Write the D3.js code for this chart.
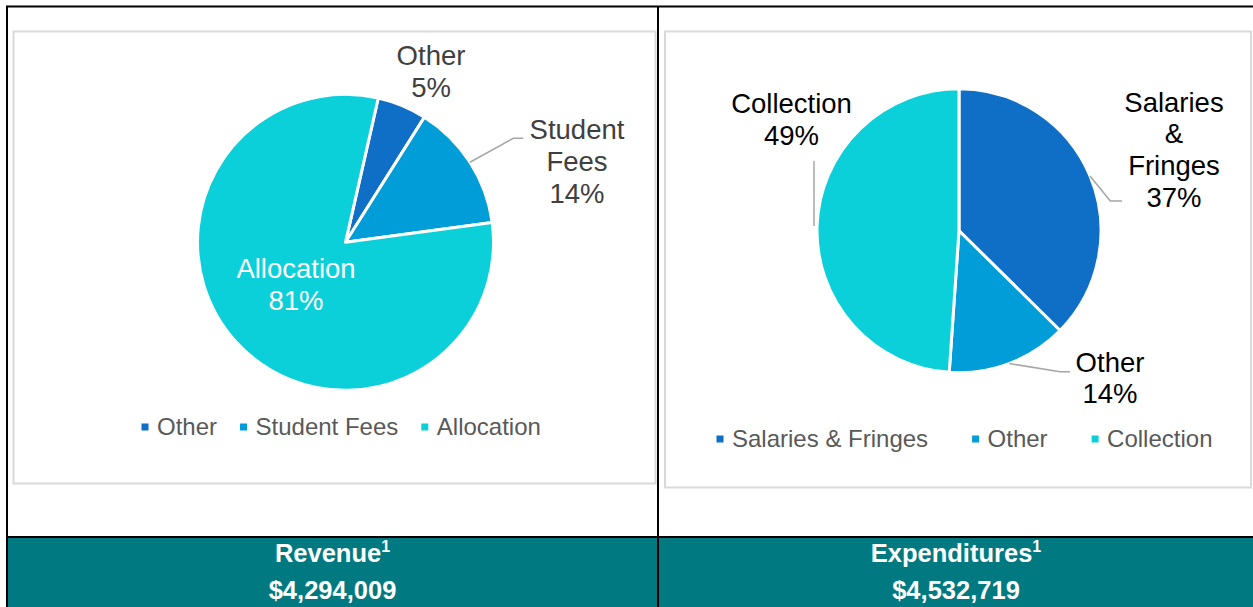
<!DOCTYPE html>
<html>
<head>
<meta charset="utf-8">
<script src="https://cdn.jsdelivr.net/npm/d3@7"></script>
<style>
  html, body { margin: 0; padding: 0; background: #fff; }
  svg { display: block; font-family: "Liberation Sans", Arial, sans-serif; }
</style>
</head>
<body>
<svg id="chart" width="1253" height="607"></svg>
<script>
// ---- data ----
const revenueCategories = ["Other", "Student Fees", "Allocation"];
const revenueShares = [5.4, 13.9, 80.7];
const revenueLabelLines = [["Other"], ["Student", "Fees"], ["Allocation"]];
const revenueTitle = "Revenue";
const revenueTotal = "$4,294,009";

const expenditureCategories = ["Salaries & Fringes", "Other", "Collection"];
const expenditureShares = [37.4, 13.7, 48.9];
const expenditureLabelLines = [["Salaries", "&", "Fringes"], ["Other"], ["Collection"]];
const expenditureTitle = "Expenditures";
const expenditureTotal = "$4,532,719";

const sliceColors = ["#0F6FC6", "#009DD9", "#0BD0D9"];

// ---- layout ----
const svg = d3.select("#chart");
const W = 1253, H = 607;
const fmt = d3.format(".0%");

// table frame
svg.append("rect").attr("x", 7).attr("y", 537).attr("width", W - 7).attr("height", H - 537).attr("fill", "#007A80");
const frame = svg.append("g").attr("stroke", "#000").attr("stroke-width", 2);
frame.append("line").attr("x1", 6).attr("x2", W).attr("y1", 6.5).attr("y2", 6.5);
frame.append("line").attr("x1", 6).attr("x2", W).attr("y1", 537).attr("y2", 537);
frame.append("line").attr("x1", 7).attr("x2", 7).attr("y1", 6).attr("y2", H);
frame.append("line").attr("x1", 658).attr("x2", 658).attr("y1", 6).attr("y2", H);

const charts = [
  {
    cats: revenueCategories, vals: revenueShares, lines: revenueLabelLines,
    box: {x: 13.5, y: 31.5, w: 642, h: 452},
    cx: 345.5, cy: 242.3, r: 148, start: 12.8,
    labelColor: ["#404040", "#404040", "#ffffff"],
    labels: [
      {dx: 85.5, dy: -177},
      {dx: 231.5, dy: -103, leader: [[167.8, -104], [177.8, -104]]},
      {dx: -49.5, dy: 36}
    ],
    legend: {x: 141.5, y: 427, gap: 23},
    title: revenueTitle, total: revenueTotal, tx: 332.5
  },
  {
    cats: expenditureCategories, vals: expenditureShares, lines: expenditureLabelLines,
    box: {x: 665, y: 31.5, w: 586, h: 456},
    cx: 959, cy: 230.7, r: 142, start: 0,
    labelColor: ["#000000", "#000000", "#000000"],
    labels: [
      {dx: 215, dy: -119, leader: [[151.3, -29.7], [163, -29.7]]},
      {dx: 151, dy: 141, leader: [[101, 141], [111, 141]]},
      {dx: -167.5, dy: -117.4, leader: [[-145, -69.7]], from: [-145, -4.7]}
    ],
    legend: {x: 716.5, y: 439, gap: 44},
    title: expenditureTitle, total: expenditureTotal, tx: 956
  }
];

const lineH = 31.7;

charts.forEach(c => {
  // chart area border
  svg.append("rect").attr("x", c.box.x).attr("y", c.box.y).attr("width", c.box.w).attr("height", c.box.h)
    .attr("fill", "#fff").attr("stroke", "#D9D9D9").attr("stroke-width", 2);

  const color = d3.scaleOrdinal().domain(c.cats).range(sliceColors);
  const a0 = c.start * Math.PI / 180;
  const pie = d3.pie().sort(null).startAngle(a0).endAngle(a0 + 2 * Math.PI);
  const arcs = pie(c.vals);
  const total = d3.sum(c.vals);
  const arc = d3.arc().innerRadius(0).outerRadius(c.r);

  const g = svg.append("g").attr("transform", `translate(${c.cx},${c.cy})`);
  g.selectAll("path.slice").data(arcs).join("path")
    .attr("class", "slice")
    .attr("d", arc)
    .attr("fill", (d, i) => color(c.cats[i]))
    .attr("stroke", "#fff").attr("stroke-width", 3).attr("stroke-linejoin", "round");

  // leader lines
  arcs.forEach((d, i) => {
    const L = c.labels[i];
    if (!L.leader) return;
    const mid = (d.startAngle + d.endAngle) / 2;
    const p0 = L.from ? L.from : [c.r * Math.sin(mid), -c.r * Math.cos(mid)];
    g.append("path")
      .attr("d", d3.line()([p0, ...L.leader]))
      .attr("fill", "none").attr("stroke", "#A6A6A6").attr("stroke-width", 1.5);
  });

  // data labels
  arcs.forEach((d, i) => {
    const L = c.labels[i];
    const rows = [...c.lines[i], fmt(d.value / total)];
    const t = g.append("text")
      .attr("text-anchor", "middle")
      .attr("font-size", 27.5)
      .attr("fill", c.labelColor[i]);
    rows.forEach((row, k) => {
      t.append("tspan").attr("x", L.dx).attr("y", L.dy + k * lineH).text(row);
    });
  });

  // legend
  const lg = svg.append("g").attr("font-size", 24).attr("fill", "#595959");
  let x = c.legend.x;
  c.cats.forEach((cat, i) => {
    lg.append("rect").attr("x", x).attr("y", c.legend.y - 3.5).attr("width", 7).attr("height", 7).attr("fill", color(cat));
    const t = lg.append("text").attr("x", x + 15.5).attr("y", c.legend.y).attr("dy", "0.35em").text(cat);
    x += 15.5 + t.node().getComputedTextLength() + c.legend.gap;
  });

  // header in teal band
  const ht = svg.append("text").attr("x", c.tx).attr("y", 561.5).attr("text-anchor", "middle")
    .attr("font-size", 25.5).attr("font-weight", "bold").attr("fill", "#fff");
  ht.append("tspan").text(c.title);
  ht.append("tspan").attr("font-size", 16).attr("dy", -10).text("1");
  svg.append("text").attr("x", c.tx).attr("y", 599).attr("text-anchor", "middle")
    .attr("font-size", 25.5).attr("font-weight", "bold").attr("fill", "#fff").text(c.total);
});
</script>
</body>
</html>
